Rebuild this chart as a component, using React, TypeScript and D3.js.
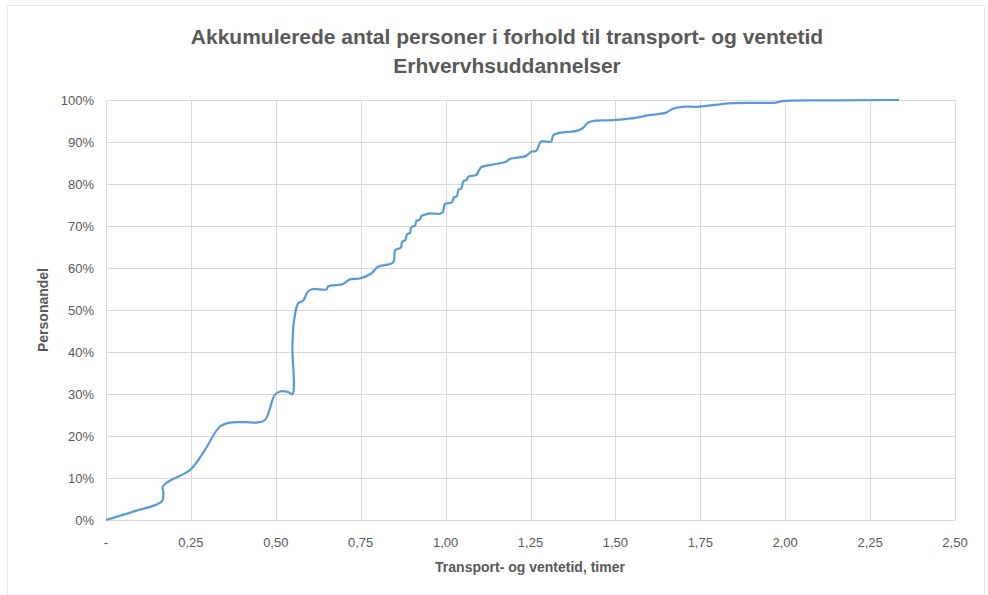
import React, { useEffect, useRef } from "react";
import * as d3 from "d3";

const titleLines = [
  "Akkumulerede antal personer i forhold til transport- og ventetid",
  "Erhvervhsuddannelser",
];
const xAxisTitle = "Transport- og ventetid, timer";
const yAxisTitle = "Personandel";

const xTicks = [0, 0.25, 0.5, 0.75, 1, 1.25, 1.5, 1.75, 2, 2.25, 2.5];
const yTicks = [0, 0.1, 0.2, 0.3, 0.4, 0.5, 0.6, 0.7, 0.8, 0.9, 1];

// transport + waiting time (hours)
const timeHours = [
  0, 0.08, 0.164, 0.169, 0.167, 0.183, 0.247, 0.29, 0.335, 0.365, 0.41, 0.443, 0.468,
  0.497, 0.512, 0.535, 0.549, 0.549, 0.553, 0.566, 0.58, 0.595, 0.61, 0.649, 0.654,
  0.698, 0.718, 0.747, 0.781, 0.801, 0.845, 0.852, 0.868, 0.872, 0.882, 0.886, 0.895,
  0.899, 0.91, 0.914, 0.925, 0.929, 0.943, 0.953, 0.99, 0.998, 1.018, 1.024, 1.033,
  1.038, 1.047, 1.052, 1.062, 1.068, 1.09, 1.098, 1.105, 1.129, 1.178, 1.188,
  1.237, 1.252, 1.267, 1.281, 1.311, 1.318, 1.389, 1.404, 1.419, 1.443, 1.492, 1.546,
  1.6, 1.649, 1.669, 1.703, 1.747, 1.835, 1.973, 1.997, 2.15, 2.335,
];
// cumulative share of persons
const shareCum = [
  0, 0.02, 0.044, 0.064, 0.079, 0.091, 0.119, 0.165, 0.222, 0.232, 0.233, 0.232, 0.238,
  0.298, 0.306, 0.305, 0.3, 0.413, 0.47, 0.516, 0.522, 0.544, 0.55, 0.549, 0.556,
  0.562, 0.573, 0.575, 0.587, 0.603, 0.613, 0.643, 0.648, 0.662, 0.667, 0.68, 0.684,
  0.697, 0.701, 0.712, 0.716, 0.724, 0.728, 0.73, 0.731, 0.752, 0.756, 0.768, 0.771,
  0.786, 0.79, 0.806, 0.81, 0.818, 0.821, 0.832, 0.84, 0.845, 0.853, 0.859,
  0.867, 0.877, 0.879, 0.901, 0.901, 0.917, 0.927, 0.933, 0.946, 0.951, 0.952, 0.956,
  0.964, 0.97, 0.979, 0.984, 0.984, 0.992, 0.994, 0.998, 0.999, 1,
];

const W = 988;
const H = 595;
const margin = { left: 106, right: 33, top: 100, bottom: 75 };
const font = "'Liberation Sans', Arial, sans-serif";
const gray = "#595959";

const App = () => {
  const ref = useRef<SVGSVGElement>(null);

  useEffect(() => {
    const svg = d3.select(ref.current);
    svg.selectAll("*").remove();

    const x = d3.scaleLinear().domain([0, 2.5]).range([margin.left, W - margin.right]);
    const y = d3.scaleLinear().domain([0, 1]).range([H - margin.bottom, margin.top]);

    svg.append("rect")
      .attr("x", 7.5).attr("y", 5.5)
      .attr("width", 977).attr("height", 600)
      .attr("fill", "#fff")
      .attr("stroke", "#e8e8e8");

    // gridlines
    svg.append("g")
      .selectAll("line.h")
      .data(yTicks)
      .join("line")
      .attr("x1", x(0)).attr("x2", x(2.5))
      .attr("y1", d => Math.round(y(d)) + 0.5).attr("y2", d => Math.round(y(d)) + 0.5)
      .attr("stroke", "#d9d9d9");
    svg.append("g")
      .selectAll("line.v")
      .data(xTicks)
      .join("line")
      .attr("y1", y(0)).attr("y2", y(1))
      .attr("x1", d => Math.round(x(d)) + 0.5).attr("x2", d => Math.round(x(d)) + 0.5)
      .attr("stroke", "#d9d9d9");

    // y tick labels
    svg.append("g")
      .selectAll("text")
      .data(yTicks)
      .join("text")
      .attr("x", x(0) - 12)
      .attr("y", d => y(d) + 4.5)
      .attr("text-anchor", "end")
      .attr("font-family", font)
      .attr("font-size", 13)
      .attr("fill", gray)
      .text(d => d3.format(".0%")(d));

    // x tick labels
    svg.append("g")
      .selectAll("text")
      .data(xTicks)
      .join("text")
      .attr("x", d => x(d))
      .attr("y", y(0) + 27)
      .attr("text-anchor", "middle")
      .attr("font-family", font)
      .attr("font-size", 13)
      .attr("fill", gray)
      .text(d => (d === 0 ? "-" : d3.format(".2f")(d).replace(".", ",")));

    // curve
    const pts = timeHours.map((t, i) => [t, shareCum[i]] as [number, number]);
    const line = d3.line<[number, number]>()
      .x(d => x(d[0]))
      .y(d => y(d[1]))
      .curve(d3.curveCatmullRom.alpha(0.5));
    svg.append("path")
      .datum(pts)
      .attr("d", line)
      .attr("fill", "none")
      .attr("stroke", "#5b9bd5")
      .attr("stroke-width", 2.25)
      .attr("stroke-linejoin", "round");

    // titles
    svg.append("g")
      .selectAll("text")
      .data(titleLines)
      .join("text")
      .attr("x", 507)
      .attr("y", (d, i) => 44 + i * 29)
      .attr("text-anchor", "middle")
      .attr("font-family", font)
      .attr("font-size", 21)
      .attr("font-weight", "bold")
      .attr("fill", gray)
      .text(d => d);

    svg.append("text")
      .attr("x", 530)
      .attr("y", 572)
      .attr("text-anchor", "middle")
      .attr("font-family", font)
      .attr("font-size", 14)
      .attr("font-weight", "bold")
      .attr("fill", gray)
      .text(xAxisTitle);

    svg.append("text")
      .attr("transform", "translate(48,310) rotate(-90)")
      .attr("text-anchor", "middle")
      .attr("font-family", font)
      .attr("font-size", 14)
      .attr("font-weight", "bold")
      .attr("fill", gray)
      .text(yAxisTitle);
  }, []);

  return (
    <svg
      ref={ref}
      width={W}
      height={H}
      style={{ position: "absolute", left: 0, top: 0, background: "#fff" }}
    />
  );
};

export default App;
